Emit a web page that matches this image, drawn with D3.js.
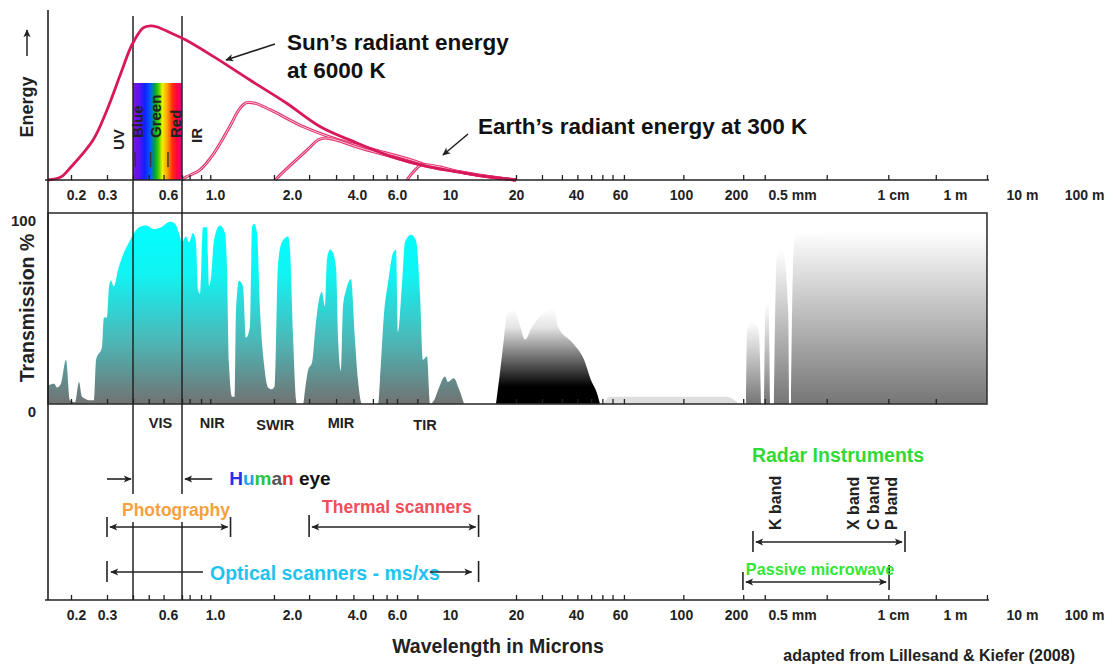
<!DOCTYPE html>
<html>
<head>
<meta charset="utf-8">
<script src="https://cdn.jsdelivr.net/npm/d3@7/dist/d3.min.js"></script>
<style>
html,body{margin:0;padding:0;background:#fff;}
svg{display:block;font-family:"Liberation Sans",Arial,Helvetica,sans-serif;font-weight:bold;}
</style>
</head>
<body>
<svg id="chart" width="1113" height="664"></svg>
<script>
// ---------- data (wavelengths in micrometres) ----------
// break values of the stretched wavelength axis
const axisBreaks = [0.15,0.2,0.3,0.4,0.6,0.7,1,2,4,6,10,20,40,60,100,200,500,1e4,1e6,1e7,1e8];
const axisEnd = 3e6;
const tickLabelValues = [0.2,0.3,0.6,1,2,4,6,10,20,40,60,100,200,500,1e4,1e6,1e7,1e8];
const tickLabels = ["0.2","0.3","0.6","1.0","2.0","4.0","6.0","10","20","40","60","100","200","0.5 mm","1 cm","1 m","10 m","100 m"];
const minorTicks = [0.19,0.3,0.4,0.48,0.57,0.7,0.76,0.86,0.95,1.7,2.4,3.2,3.85,4.7,5.4,6,7.3,20,27,34,40.5,46,51,56,62,103,225,320,1400,8700,2.4e5];

// radiant energy curves (relative energy)
const sunW = [0.15,0.171,0.19,0.25,0.30,0.35,0.395,0.45,0.49,0.53,0.62,0.73,0.99,1.37,1.9,2.72,4.0,5.76,8.2,11.6,15,20];
const sunE = [0,1.9,8.4,25.8,45.2,69,87.1,98.1,99.4,98.7,94.8,90.3,79.4,64.5,49.7,34.2,23.9,14.8,8.4,4.5,2.0,0];
const earthW1 = [0.7,0.73,0.85,0.99,1.14,1.24,1.32,1.42,1.65,2.27,3.3,4.8,6.9,8.2,11.6,15,20];
const earthE1 = [0,1.9,6.5,17.4,34.2,45.2,49.7,49.7,45.2,34.2,25.8,19.4,12.9,9.0,4.8,2.2,0];
const earthW2 = [1.72,1.75,2.02,2.35,2.64,2.84,3.2,4.0,5.76,7.6,11.6,15,20];
const earthE2 = [0,1.3,11,19.4,25.8,27.1,25.8,21.3,14.8,9.7,4.6,2.1,0];
const earthW3 = [6.6,7.0,7.6,11.6,15,20];
const earthE3 = [0,5,9.6,4.7,2.1,0];

// visible spectrum block
const spectrumBand = [0.4, 0.7];
const spectrumTop = 62.6;
const spectrumEdges = [0.41, 0.49, 0.6];
const bandLabels = ["UV","Blue","Green","Red","IR"];
const bandLabelW = [0.339,0.419,0.522,0.655,0.823];

// atmospheric transmission (%)
const opticalTransmission = [[0.15,0],[0.1505,10],[0.16,11],[0.1645,9],[0.1714,11],[0.1805,24],[0.188,2],[0.198,1],[0.208,12],[0.216,4],[0.243,2],[0.253,2],[0.26,24],[0.281,31],[0.288,47],[0.30,47],[0.307,64],[0.313,67],[0.324,64],[0.339,73],[0.358,81],[0.383,88],[0.405,93],[0.429,96],[0.465,97],[0.51,95],[0.553,96],[0.614,99],[0.648,98],[0.677,93],[0.70,88],[0.731,91],[0.755,88],[0.788,93],[0.814,88],[0.832,62],[0.85,60],[0.878,96],[0.917,96],[0.937,64],[0.958,69],[0.989,89],[1.046,97],[1.094,93],[1.114,74],[1.134,22],[1.166,4],[1.197,4],[1.208,51],[1.241,67],[1.287,64],[1.322,36],[1.37,42],[1.395,96],[1.42,98],[1.46,93],[1.50,51],[1.554,22],[1.612,9],[1.67,8],[1.716,10],[1.763,76],[1.828,88],[1.93,91],[1.965,84],[2.02,39],[2.09,2],[2.1,0],[2.25,0],[2.30,8],[2.37,18],[2.48,23],[2.56,40],[2.67,57],[2.75,61],[2.84,53],[2.905,79],[3.0,84],[3.10,82],[3.20,74],[3.27,35],[3.37,18],[3.445,53],[3.56,62],[3.75,68],[3.915,35],[4.04,13],[4.21,0],[4.95,0],[5.05,13],[5.26,49],[5.48,66],[5.76,82],[5.94,84],[6.06,39],[6.30,66],[6.48,88],[6.87,92],[7.2,89],[7.49,60],[7.70,24],[8.01,26],[8.25,0],[8.57,2],[9.0,9],[9.53,15],[9.8,12],[10.4,14],[11.0,8],[11.6,0]];
const farInfraredTransmission = [[16.2,0],[16.9,17],[17.6,35],[18.2,49],[19.6,51],[20.9,43],[22.2,35],[24.1,42],[27.3,49],[31.0,52],[32.5,42],[38.6,33],[43.1,24],[45.9,13],[48.5,6],[49.9,0]];
const submillimetreTransmission = [[51.3,0],[54.7,4],[176,4],[213,0]];
const microwaveWindows = [
  [[236,0],[240,40],[260,45],[290,40],[301,0]],
  [[316,0],[325,55],[340,55],[349,0]],
  [[372,0],[390,80],[430,84],[470,50],[476,0]],
  [[492,0],[520,80],[563,93],[1e5,94],[3e6,94]]
];
const regionLabels = ["VIS","NIR","SWIR","MIR","TIR"];
const regionW = [0.55,0.97,1.72,3.37,7.86];

// sensing systems
const instrumentNames = ["Photography","Thermal scanners","Optical scanners - ms/xs","Radar Instruments","Passive microwave"];
const instrumentFrom = [0.3,2.4,0.3,264,224];
const instrumentTo = [1.15,13.5,13.5,24400,8900];
const instrumentLabelW = [0.655,6.0,2.84,1960,1150];
const radarBands = ["K band","X band","C band","P band"];
const radarBandW = [380,3050,5530,9430];
const humanEye = [0.4,0.7];
const humanEyeFrom = [0.3,0.97];

// ---------- scales ----------
const svg = d3.select("#chart");
const xLog = d3.scaleLinear()
  .domain(axisBreaks.map(Math.log10))
  .range([48,76,107,133,168,182,215,292,357,397,450,516,576,620,681,736,792,893,955,1022,1084]);
const x = w => xLog(Math.log10(w));
const yE = d3.scaleLinear().domain([0,100]).range([180,25]);
const yT = d3.scaleLinear().domain([0,100]).range([404,220]);

const ink = "#222";
const defs = svg.append("defs");

// arrow head
defs.append("marker").attr("id","head").attr("viewBox","0 0 10 10")
  .attr("refX",9).attr("refY",5).attr("markerWidth",9).attr("markerHeight",8)
  .attr("markerUnits","userSpaceOnUse").attr("orient","auto-start-reverse")
  .append("path").attr("d","M0,0.5 L10,5 L0,9.5 L2.5,5 z").attr("fill",ink);

// gradients
const gOpt = defs.append("linearGradient").attr("id","gOpt").attr("gradientUnits","userSpaceOnUse")
  .attr("x1",0).attr("x2",0).attr("y1",yT(100)).attr("y2",yT(0));
[[0,"#00ffff"],[0.3,"#12f2f2"],[0.65,"#4cb8b8"],[1,"#727272"]]
  .forEach(s => gOpt.append("stop").attr("offset",s[0]).attr("stop-color",s[1]));
const gFir = defs.append("linearGradient").attr("id","gFir").attr("x1",0).attr("x2",0).attr("y1",0).attr("y2",1);
gFir.append("stop").attr("offset",0).attr("stop-color","#ffffff");
gFir.append("stop").attr("offset",0.2).attr("stop-color","#e4e4e4");
gFir.append("stop").attr("offset",0.82).attr("stop-color","#000000");
gFir.append("stop").attr("offset",1).attr("stop-color","#000000");
const gMw = defs.append("linearGradient").attr("id","gMw").attr("x1",0).attr("x2",0).attr("y1",0).attr("y2",1);
gMw.append("stop").attr("offset",0).attr("stop-color","#ffffff");
gMw.append("stop").attr("offset",1).attr("stop-color","#767676");
const gSpec = defs.append("linearGradient").attr("id","gSpec").attr("x1",0).attr("x2",1).attr("y1",0).attr("y2",0);
[[0,"#8a10d8"],[0.12,"#5a14f0"],[0.24,"#1020ff"],[0.36,"#0060ff"],[0.44,"#00a040"],[0.52,"#40d000"],[0.6,"#f0f000"],[0.7,"#ffa000"],[0.8,"#ff3010"],[0.9,"#ff0040"],[1,"#d8009a"]]
  .forEach(s => gSpec.append("stop").attr("offset",s[0]).attr("stop-color",s[1]));

// clip for transmission panel
const boxTop = 213;
defs.append("clipPath").attr("id","boxClip").append("rect")
  .attr("x",x(0.15)).attr("y",boxTop).attr("width",x(axisEnd)-x(0.15)).attr("height",yT(0)-boxTop);

// ---------- transmission panel ----------
const area = d3.area().x(d => x(d[0])).y0(yT(0)).y1(d => yT(d[1])).curve(d3.curveMonotoneX);
const tp = svg.append("g").attr("clip-path","url(#boxClip)");
tp.append("path").datum(opticalTransmission).attr("d",area).attr("fill","url(#gOpt)");
tp.append("path").datum(farInfraredTransmission).attr("d",area).attr("fill","url(#gFir)");
tp.append("path").datum(submillimetreTransmission).attr("d",area).attr("fill","#dedede");
tp.selectAll("path.mw").data(microwaveWindows).join("path").attr("class","mw")
  .attr("d",area).attr("fill","url(#gMw)");

svg.append("rect").attr("x",x(0.15)).attr("y",boxTop).attr("width",x(axisEnd)-x(0.15)).attr("height",yT(0)-boxTop)
  .attr("fill","none").attr("stroke","#333").attr("stroke-width",1.6);

// tick marks along transmission baseline
svg.append("g").attr("transform",`translate(0,${yT(0)})`)
  .call(d3.axisTop(xLog).tickValues(minorTicks.map(Math.log10)).tickSize(5).tickFormat(""))
  .call(g => { g.select(".domain").remove(); g.selectAll("line").attr("stroke",ink).attr("stroke-width",1.3); });

svg.append("text").attr("x",36).attr("y",226).attr("text-anchor","end").attr("font-size",15).attr("fill",ink).text("100");
svg.append("text").attr("x",36).attr("y",417).attr("text-anchor","end").attr("font-size",15).attr("fill",ink).text("0");
svg.append("text").attr("transform","translate(34,308) rotate(-90)").attr("text-anchor","middle")
  .attr("font-size",19.5).attr("fill",ink).text("Transmission %");

svg.selectAll("text.region").data(regionLabels).join("text").attr("class","region")
  .attr("x",(d,i) => x(regionW[i])).attr("y",(d,i) => d === "SWIR" || d === "TIR" ? 430 : 428)
  .attr("text-anchor","middle").attr("font-size",14.5).attr("fill",ink).text(d => d);

// ---------- energy panel ----------
svg.append("rect").attr("x",x(spectrumBand[0])).attr("y",yE(spectrumTop))
  .attr("width",x(spectrumBand[1])-x(spectrumBand[0])).attr("height",yE(0)-yE(spectrumTop))
  .attr("fill","url(#gSpec)");
svg.selectAll("line.sedge").data(spectrumEdges).join("line").attr("class","sedge")
  .attr("x1",d => x(d)).attr("x2",d => x(d)).attr("y1",152).attr("y2",167)
  .attr("stroke","#333").attr("stroke-width",1.4);

svg.selectAll("text.band").data(bandLabels).join("text").attr("class","band")
  .attr("transform",(d,i) => `translate(${x(bandLabelW[i])+5.5},${d==="UV"?150:(d==="IR"?143:138)}) rotate(-90)`)
  .attr("font-size",15).attr("fill",ink).text(d => d);

// human eye limits
[[16,494],[522,600]].forEach(seg => {
  svg.selectAll(null).data(humanEye).join("line")
    .attr("x1",d => x(d)).attr("x2",d => x(d)).attr("y1",seg[0]).attr("y2",seg[1])
    .attr("stroke",ink).attr("stroke-width",1.5);
});

const line = d3.line().x(d => x(d[0])).y(d => yE(d[1])).curve(d3.curveCatmullRom.alpha(0.5));
const zip = (a,b) => a.map((v,i) => [v,b[i]]);
[[earthW1,earthE1],[earthW2,earthE2],[earthW3,earthE3]].forEach(c => {
  const pts = zip(c[0],c[1]);
  svg.append("path").datum(pts).attr("d",line).attr("fill","none").attr("stroke","#e2336f").attr("stroke-width",3);
  svg.append("path").datum(pts).attr("d",line).attr("fill","none").attr("stroke","#ffd6e2").attr("stroke-width",0.9);
});
svg.append("path").datum(zip(sunW,sunE)).attr("d",line).attr("fill","none")
  .attr("stroke","#d8185a").attr("stroke-width",2.8);

// left frame line
svg.append("line").attr("x1",x(0.15)).attr("x2",x(0.15)).attr("y1",10).attr("y2",600)
  .attr("stroke",ink).attr("stroke-width",1.6);

// wavelength axes
function wavelengthAxis(y, labelY) {
  svg.append("line").attr("x1",x(0.15)-3).attr("x2",x(axisEnd)+2).attr("y1",y).attr("y2",y)
    .attr("stroke",ink).attr("stroke-width",1.6);
  svg.append("g").attr("transform",`translate(0,${y})`)
    .call(d3.axisTop(xLog).tickValues(minorTicks.concat([axisEnd]).map(Math.log10)).tickSize(5).tickFormat(""))
    .call(g => { g.select(".domain").remove(); g.selectAll("line").attr("stroke",ink).attr("stroke-width",1.3); });
  svg.append("g").attr("transform",`translate(0,${labelY})`)
    .call(d3.axisBottom(xLog).tickValues(tickLabelValues.map(Math.log10)).tickSize(0).tickPadding(0)
      .tickFormat((d,i) => tickLabels[i]))
    .call(g => {
      g.select(".domain").remove();
      g.selectAll("text").attr("font-size",14).attr("font-family","Liberation Sans, Arial, sans-serif")
        .attr("font-weight","bold").attr("fill",ink).attr("dy","0.35em");
    });
}
wavelengthAxis(180, 195);
wavelengthAxis(600, 615);

// energy label
svg.append("text").attr("transform","translate(33,107) rotate(-90)").attr("text-anchor","middle")
  .attr("font-size",18).attr("fill",ink).text("Energy");
svg.append("line").attr("x1",27).attr("x2",27).attr("y1",56).attr("y2",30)
  .attr("stroke",ink).attr("stroke-width",1.5).attr("marker-end","url(#head)");

// curve annotations
svg.append("text").attr("x",287).attr("y",50).attr("font-size",22.5).attr("fill","#111").text("Sun’s radiant energy");
svg.append("text").attr("x",287).attr("y",78).attr("font-size",22.5).attr("fill","#111").text("at 6000 K");
svg.append("line").attr("x1",275).attr("y1",44).attr("x2",226).attr("y2",60)
  .attr("stroke",ink).attr("stroke-width",1.6).attr("marker-end","url(#head)");
svg.append("text").attr("x",478).attr("y",134).attr("font-size",22.5).attr("fill","#111").text("Earth’s radiant energy at 300 K");
svg.append("line").attr("x1",468).attr("y1",134).attr("x2",443).attr("y2",155)
  .attr("stroke",ink).attr("stroke-width",1.6).attr("marker-end","url(#head)");

// ---------- sensing systems ----------
// human eye
svg.append("line").attr("x1",x(humanEyeFrom[0])).attr("x2",x(humanEye[0])-2).attr("y1",479).attr("y2",479)
  .attr("stroke",ink).attr("stroke-width",1.6).attr("marker-end","url(#head)");
svg.append("line").attr("x1",x(humanEyeFrom[1])).attr("x2",x(humanEye[1])+3).attr("y1",479).attr("y2",479)
  .attr("stroke",ink).attr("stroke-width",1.6).attr("marker-end","url(#head)");
const eye = svg.append("text").attr("x",x(humanEyeFrom[1])+17).attr("y",485).attr("font-size",19);
[["H","#2233ee"],["u","#1aa6e6"],["m","#2bc43a"],["a","#555"],["n","#e8333a"],[" eye","#111"]]
  .forEach(p => eye.append("tspan").attr("fill",p[1]).text(p[0]));

const instColors = ["#f6a13c","#ef4e5a","#1fc3ef","#33d933","#33e633"];
const instRows = [
  {bar:527, cap:[517,537], text:516, size:17.5},
  {bar:527, cap:[515,537], text:513, size:17.5},
  {bar:572, cap:[561,582], text:580, size:19.5},
  {bar:542, cap:[531,552], text:462, size:19.5},
  {bar:582, cap:[572,590], text:575, size:16.2}
];
function capLine(w, c) {
  svg.append("line").attr("x1",x(w)).attr("x2",x(w)).attr("y1",c[0]).attr("y2",c[1])
    .attr("stroke",ink).attr("stroke-width",1.6);
}
instrumentNames.forEach((name,i) => {
  const r = instRows[i];
  const x0 = x(instrumentFrom[i]), x1 = x(instrumentTo[i]);
  capLine(instrumentFrom[i], r.cap);
  capLine(instrumentTo[i], i === 4 ? [565,590] : r.cap);
  const t = svg.append("text").attr("x",x(instrumentLabelW[i])).attr("y",r.text).attr("text-anchor","middle")
    .attr("font-size",r.size).attr("fill",instColors[i]).text(name);
  if (i === 2) {
    const len = t.node().getComputedTextLength();
    const cx = x(instrumentLabelW[i]);
    svg.append("line").attr("x1",cx-len/2-7).attr("x2",x0+4).attr("y1",r.bar).attr("y2",r.bar)
      .attr("stroke",ink).attr("stroke-width",1.6).attr("marker-end","url(#head)");
    svg.append("line").attr("x1",cx+len/2-10).attr("x2",x1-7).attr("y1",r.bar).attr("y2",r.bar)
      .attr("stroke",ink).attr("stroke-width",1.6).attr("marker-end","url(#head)");
  } else {
    svg.append("line").attr("x1",x0+3).attr("x2",x1-3).attr("y1",r.bar).attr("y2",r.bar)
      .attr("stroke",ink).attr("stroke-width",1.6)
      .attr("marker-start","url(#head)").attr("marker-end","url(#head)");
  }
});

svg.selectAll("text.rband").data(radarBands).join("text").attr("class","rband")
  .attr("transform",(d,i) => `translate(${x(radarBandW[i])+6},530) rotate(-90)`)
  .attr("font-size",16).attr("fill",ink).text(d => d);

// axis title & credit
svg.append("text").attr("x",498).attr("y",653).attr("text-anchor","middle").attr("font-size",19.5)
  .attr("fill",ink).text("Wavelength in Microns");
svg.append("text").attr("x",1075).attr("y",661).attr("text-anchor","end").attr("font-size",16)
  .attr("fill",ink).text("adapted from Lillesand & Kiefer (2008)");
</script>
</body>
</html>
